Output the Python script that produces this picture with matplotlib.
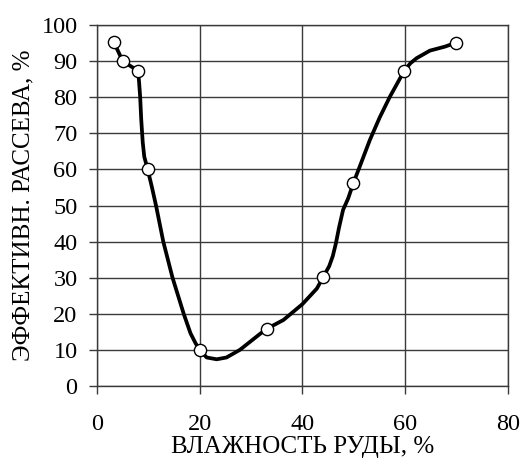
import matplotlib
matplotlib.use("Agg")
import matplotlib.pyplot as plt

plt.rcParams['font.family'] = ['Liberation Serif', 'DejaVu Serif']

# измеренные точки
x_pts = [3.3, 5.0, 8.0, 9.85, 20.0, 33.0, 44.0, 49.9, 59.8, 69.9]
y_pts = [95.2, 90.0, 87.3, 60.1, 10.0, 15.8, 30.1, 56.2, 87.3, 95.1]

# сглаженная кривая
x_curve = [3.3, 5.0, 8.0, 8.2, 8.4, 8.6, 8.9, 9.2, 9.85, 10.7, 11.5, 12.9, 14.7,
           16.9, 18.2, 19.2, 20.0, 21.35, 23.3, 25.2, 27.8, 31.7, 33.0, 36.3,
           40.0, 42.8, 44.0, 45.2, 45.9, 46.5, 47.1, 47.9, 48.9, 49.9, 51.2,
           53.1, 55.0, 57.0, 59.8, 61.0, 62.2, 64.8, 67.7, 69.9]
y_curve = [95.2, 90.0, 87.3, 84.0, 80.1, 74.0, 67.5, 63.5, 60.1, 55.0, 49.9, 40.0,
           30.0, 19.9, 14.6, 11.8, 10.0, 7.9, 7.4, 7.9, 10.0, 14.4, 15.8, 18.3,
           22.7, 27.0, 30.1, 33.2, 36.0, 39.5, 43.8, 48.8, 52.0, 56.2, 61.0,
           68.1, 74.3, 80.1, 87.3, 89.4, 90.8, 92.9, 94.0, 95.1]

fig = plt.figure(figsize=(5.21, 4.58), dpi=100)
ax = fig.add_axes([0.1862, 0.1572, 0.7888, 0.7882])

ax.plot(x_curve, y_curve, color='black', lw=2.7, zorder=3,
        solid_joinstyle='round', solid_capstyle='round')
ax.plot(x_pts, y_pts, 'o', ms=8.8, mfc='white', mec='black', mew=1.0, zorder=4)

ax.set_xlim(0, 80)
ax.set_ylim(0, 100)
ax.set_xticks(range(0, 81, 20))
ax.set_yticks(range(0, 101, 10))
ax.grid(True, color='#3a3a3a', lw=1.0)
for s in ax.spines.values():
    s.set_color('#3a3a3a')
    s.set_linewidth(1.0)
ax.tick_params(axis='both', direction='out', length=6, width=1.0, color='#3a3a3a',
               labelsize=17.5)
ax.tick_params(axis='x', pad=14)
ax.tick_params(axis='y', pad=8)

ax.set_xlabel('ВЛАЖНОСТЬ РУДЫ, %', fontsize=18, labelpad=1)
ax.set_ylabel('ЭФФЕКТИВН. РАССЕВА, %', fontsize=18, labelpad=5)

fig.savefig('out.png', dpi=100)
